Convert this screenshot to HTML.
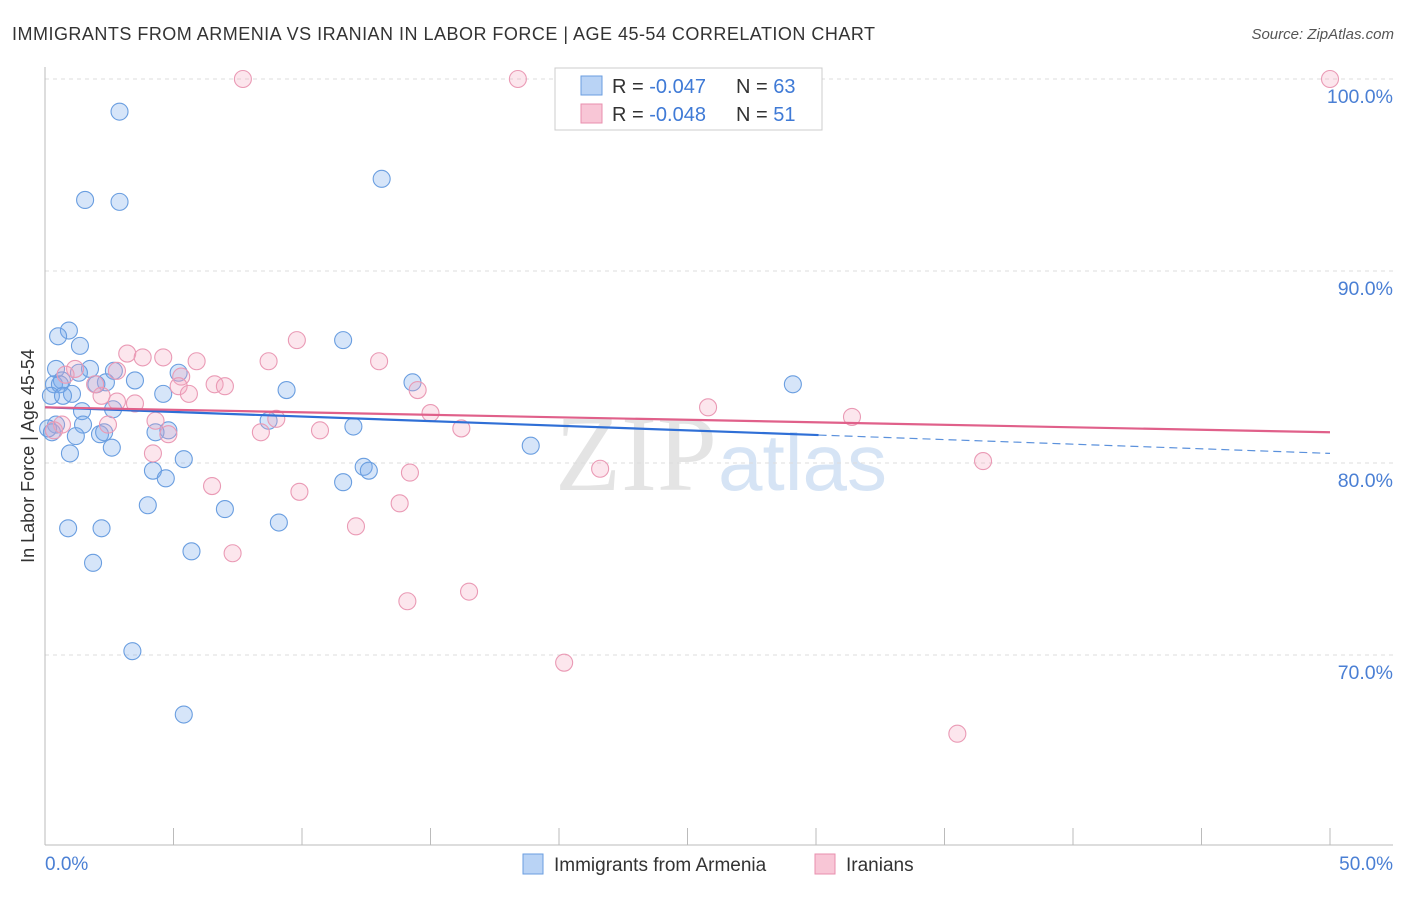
<!DOCTYPE html>
<html><head><meta charset="utf-8"><style>
body{margin:0;background:#fff;font-family:"Liberation Sans",sans-serif;}
</style></head><body>
<svg id="chart" width="1406" height="892" xmlns="http://www.w3.org/2000/svg">
<text x="12" y="40" font-size="18" fill="#333" textLength="863" lengthAdjust="spacing">IMMIGRANTS FROM ARMENIA VS IRANIAN IN LABOR FORCE | AGE 45-54 CORRELATION CHART</text>
<text x="1394" y="39" font-size="15" fill="#555" font-style="italic" text-anchor="end">Source: ZipAtlas.com</text>
<text x="555" y="490" font-size="108" fill="#e4e4e4" font-family="Liberation Serif">ZIP<tspan x="718" fill="#d6e4f5" font-family="Liberation Sans" font-size="80">atlas</tspan></text>
<g id="grid"></g>
<g id="axes"></g>
<g id="pts"></g>
<g id="lines"></g>
<text transform="translate(34,456) rotate(-90)" font-size="18" fill="#333" text-anchor="middle">In Labor Force | Age 45-54</text>
<g>
<rect x="555" y="68" width="267" height="62" fill="#fff" stroke="#ccc"/>
<rect x="581" y="76" width="21" height="19" fill="#b9d3f5" stroke="#6a9ee0"/>
<rect x="581" y="104" width="21" height="19" fill="#f8c6d6" stroke="#e88fae"/>
<text x="612" y="93" font-size="20" fill="#333">R = <tspan fill="#3f7ad6">-0.047</tspan></text>
<text x="736" y="93" font-size="20" fill="#333">N = <tspan fill="#3f7ad6">63</tspan></text>
<text x="612" y="121" font-size="20" fill="#333">R = <tspan fill="#3f7ad6">-0.048</tspan></text>
<text x="736" y="121" font-size="20" fill="#333">N = <tspan fill="#3f7ad6"> 51</tspan></text>
</g>
<g>
<rect x="523" y="854" width="20" height="20" fill="#b9d3f5" stroke="#6a9ee0"/>
<text x="554" y="871" font-size="19" fill="#333">Immigrants from Armenia</text>
<rect x="815" y="854" width="20" height="20" fill="#f8c6d6" stroke="#e88fae"/>
<text x="846" y="871" font-size="19" fill="#333">Iranians</text>
</g>
</svg>
<script>
const yTicks=[100,90,80,70];
const yTickLabels=["100.0%","90.0%","80.0%","70.0%"];
const xTicks=[0,5,10,15,20,25,30,35,40,45,50];
const xEndLabels=["0.0%","50.0%"];
const blueX=[2.9,1.56,2.9,13.1,0.93,0.51,1.36,11.6,0.43,1.75,2.68,1.32,5.2,0.66,3.5,0.35,0.58,2.37,2.0,14.3,29.1,9.4,1.05,0.23,4.6,0.7,2.65,1.44,8.7,0.43,1.48,0.12,4.8,4.3,12.0,2.14,2.3,1.2,0.27,2.6,0.97,18.9,5.4,4.2,12.4,12.6,4.7,11.6,4.0,7.0,9.1,0.9,2.2,5.7,1.87,3.4,5.4];
const blueY=[98.3,93.7,93.6,94.8,86.9,86.6,86.1,86.4,84.9,84.9,84.8,84.7,84.7,84.3,84.3,84.1,84.1,84.2,84.1,84.2,84.1,83.8,83.6,83.5,83.6,83.5,82.8,82.7,82.2,82.0,82.0,81.8,81.7,81.6,81.9,81.5,81.6,81.4,81.6,80.8,80.5,80.9,80.2,79.6,79.8,79.6,79.2,79.0,77.8,77.6,76.9,76.6,76.6,75.4,74.8,70.2,66.9];
const pinkX=[7.7,18.4,50,9.8,3.2,3.8,4.6,5.9,8.7,13.0,1.17,2.8,5.3,0.8,6.6,7.0,5.2,1.95,14.5,5.6,2.2,3.5,2.8,25.8,15.0,31.4,9.0,4.3,2.45,0.66,10.7,8.4,16.2,4.8,0.35,4.2,36.5,21.6,14.2,6.5,9.9,13.8,12.1,7.3,16.5,14.1,20.2,35.5];
const pinkY=[100,100,100,86.4,85.7,85.5,85.5,85.3,85.3,85.3,84.9,84.8,84.5,84.6,84.1,84.0,84.0,84.1,83.8,83.6,83.5,83.1,83.2,82.9,82.6,82.4,82.3,82.2,82.0,82.0,81.7,81.6,81.8,81.5,81.7,80.5,80.1,79.7,79.5,78.8,78.5,77.9,76.7,75.3,73.3,72.8,69.6,65.9];
const blueTrend=[82.9,80.5];
const pinkTrend=[82.9,81.6];
const blueSolidEnd=30.1;

const sx=v=>45+v*(1285/50);
const sy=v=>79+(100-v)*19.2;
const NS="http://www.w3.org/2000/svg";
function mk(tag,attrs,parent){const e=document.createElementNS(NS,tag);for(const k in attrs)e.setAttribute(k,attrs[k]);parent.appendChild(e);return e;}
const grid=document.getElementById('grid'),axes=document.getElementById('axes'),pts=document.getElementById('pts'),lines=document.getElementById('lines');
yTicks.forEach((t,i)=>{
 const l=mk('line',{x1:45,x2:1393,y1:sy(t),y2:sy(t),stroke:'#ddd','stroke-dasharray':'4,4'},grid);
 
 
 const tx=mk('text',{x:1393,y:sy(t)+24,'font-size':19.5,fill:'#4a7fd4','text-anchor':'end'},grid);
 tx.textContent=yTickLabels[i];
 
 
});
const ax=mk('line',{x1:45,x2:45,y1:67,y2:845,stroke:'#bbb'},axes);


const bx=mk('line',{x1:45,x2:1393,y1:845,y2:845,stroke:'#bbb'},axes);


xTicks.forEach(t=>{
 const l=mk('line',{x1:sx(t),x2:sx(t),y1:828,y2:845,stroke:'#bbb'},axes);
 
 
});
[[0,'start',45],[50,'end',1393]].forEach((d,i)=>{
 const tx=mk('text',{x:d[2],y:870,'font-size':19,fill:'#4a7fd4','text-anchor':d[1]},axes);
 tx.textContent=xEndLabels[i];
 
 
});
blueX.forEach((x,i)=>{
 const c=mk('circle',{cx:sx(x),cy:sy(blueY[i]),r:8.5,fill:'rgba(120,170,235,0.3)',stroke:'#6a9ee0','stroke-width':1.1},pts);
 
 
});
pinkX.forEach((x,i)=>{
 const c=mk('circle',{cx:sx(x),cy:sy(pinkY[i]),r:8.5,fill:'rgba(244,165,192,0.28)',stroke:'#ea9ab5','stroke-width':1.1},pts);
 
 
});
const by=x=>blueTrend[0]+(blueTrend[1]-blueTrend[0])*x/50;
const bl=mk('line',{x1:sx(0),y1:sy(by(0)),x2:sx(blueSolidEnd),y2:sy(by(blueSolidEnd)),stroke:'#2f6fd6','stroke-width':2.2},lines);


const bd=mk('line',{x1:sx(blueSolidEnd),y1:sy(by(blueSolidEnd)),x2:sx(50),y2:sy(by(50)),stroke:'#5b91dc','stroke-width':1.2,'stroke-dasharray':'8,5'},lines);


const pl=mk('line',{x1:sx(0),y1:sy(pinkTrend[0]),x2:sx(50),y2:sy(pinkTrend[1]),stroke:'#e0608a','stroke-width':2.2},lines);


</script>
</body></html>
